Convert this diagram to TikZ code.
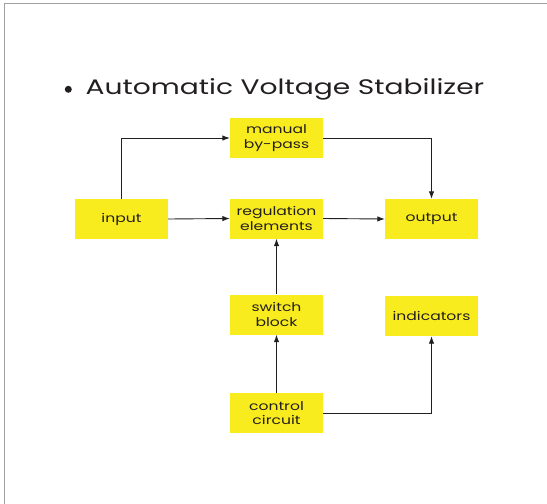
\documentclass[tikz,border=0pt]{standalone}
\usepackage{fontspec}
\setmainfont[FakeStretch=1.3]{Poppins}
\newfontfamily\headfont[FakeStretch=1.34]{Poppins}
\usetikzlibrary{arrows.meta}
\definecolor{boxyellow}{RGB}{249,236,30}
\definecolor{inkgray}{RGB}{35,31,32}
\definecolor{framegray}{RGB}{160,160,160}
\begin{document}
\begin{tikzpicture}[x=1pt,y=-1pt,
        blk/.style={fill=boxyellow,minimum width=93pt,minimum height=40pt,inner sep=0pt,align=center,text=inkgray,font=\fontsize{12}{14.5}\selectfont},
        flow/.style={draw=inkgray,line width=0.9pt,-{Latex[length=7.5pt,width=5.5pt]}}]
        \useasboundingbox (0,0) rectangle (547,504);
        \draw[framegray,line width=1pt] (4,504) -- (4,3.5) -- (547,3.5);
        \node[circle,fill=inkgray,inner sep=0pt,minimum size=7pt] (dot) at (68.3,89.3) {};
        \node[anchor=base west,inner sep=0pt,text=inkgray,font=\headfont\fontsize{21}{24}\selectfont] (title) at (85.5,94) {Automatic Voltage Stabilizer};
        \node[blk] (bypass) at (276.5,138) {manual\\by-pass};
        \node[blk] (input) at (121.5,219) {input};
        \node[blk] (reg) at (276.5,218.5) {regulation\\elements};
        \node[blk] (output) at (431.5,219) {output};
        \node[blk] (switch) at (276.5,314.5) {switch\\block};
        \node[blk] (ind) at (431.5,316) {indicators};
        \node[blk] (ctrl) at (276.5,413) {control\\circuit};
        \draw[flow] (input.north) |- (bypass.west);
        \draw[flow] (bypass.east) -| (output.north);
        \draw[flow] (input.east) -- (reg.west);
        \draw[flow] (reg.east) -- (output.west);
        \draw[flow] (switch.north) -- (reg.south);
        \draw[flow] (ctrl.north) -- (switch.south);
        \draw[flow] (ctrl.east) -| (ind.south);
    \end{tikzpicture}
\end{document}
